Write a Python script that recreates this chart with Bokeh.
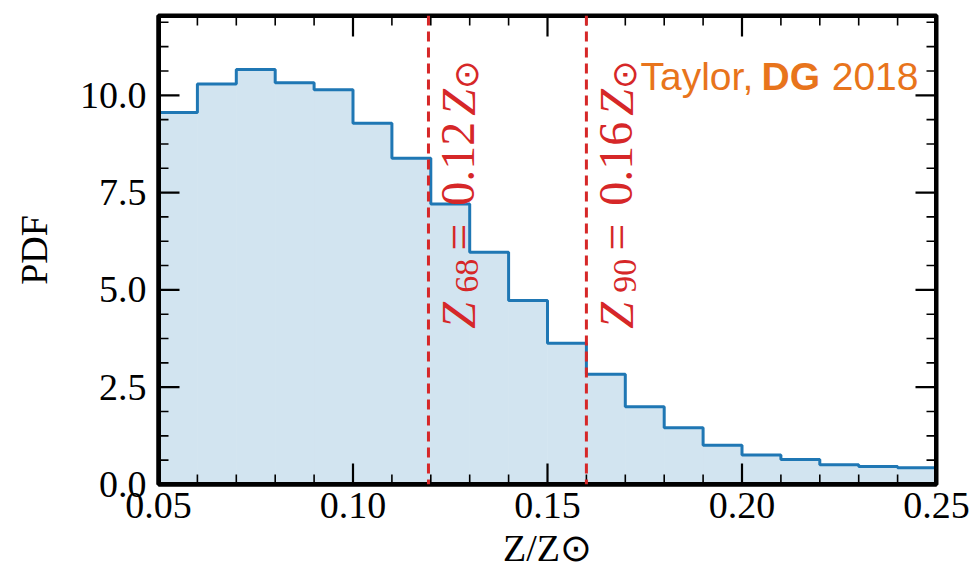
from bokeh.plotting import figure
from bokeh.models import (Span, Label, FixedTicker, PrintfTickFormatter, Range1d,
                          BoxAnnotation)
from bokeh.embed import file_html
from bokeh.resources import INLINE

# ---- data ----
bin_edges = [0.05, 0.06, 0.07, 0.08, 0.09, 0.10, 0.11, 0.12, 0.13, 0.14, 0.15,
             0.16, 0.17, 0.18, 0.19, 0.20, 0.21, 0.22, 0.23, 0.24, 0.25]
pdf_values = [9.56, 10.29, 10.66, 10.32, 10.14, 9.28, 8.38, 7.21, 5.97, 4.73,
              3.63, 2.83, 2.00, 1.46, 1.01, 0.76, 0.64, 0.51, 0.46, 0.43]
z68 = 0.1194
z90 = 0.1600
x_major = [0.05, 0.10, 0.15, 0.20, 0.25]
x_minor = [0.06, 0.07, 0.08, 0.09, 0.11, 0.12, 0.13, 0.14, 0.16, 0.17, 0.18, 0.19,
           0.21, 0.22, 0.23, 0.24]
y_major = [0.0, 2.5, 5.0, 7.5, 10.0]
y_minor = [0.625, 1.25, 1.875, 3.125, 3.75, 4.375, 5.625, 6.25, 6.875, 8.125, 8.75,
           9.375, 10.625, 11.25, 11.875]
x_lo, x_hi = 0.05, 0.25
y_lo, y_hi = 0.0, 12.05

BLUE = "#1f77b4"
RED = "#d62728"
ORANGE = "#e8741c"
INK = "#000000"
SERIF = "Liberation Serif"

W, H = 977, 581
BL, BR, BT, BB = 158, 41, 15, 97
FRAME_W, FRAME_H = W - BL - BR, H - BT - BB
px_x = (x_hi - x_lo) / FRAME_W
px_y = (y_hi - y_lo) / FRAME_H

p = figure(width=W, height=H, output_backend="svg", toolbar_location=None,
           x_range=Range1d(x_lo, x_hi), y_range=Range1d(y_lo, y_hi),
           min_border_left=BL, min_border_right=BR, min_border_top=BT,
           min_border_bottom=BB, x_axis_label="Z/Z⊙", y_axis_label="PDF")
p.grid.grid_line_color = None
p.outline_line_color = INK
p.outline_line_width = 4
p.background_fill_color = "white"
p.border_fill_color = "white"

p.xaxis.ticker = FixedTicker(ticks=x_major, minor_ticks=x_minor)
p.yaxis.ticker = FixedTicker(ticks=y_major, minor_ticks=y_minor)
p.xaxis.formatter = PrintfTickFormatter(format="%.2f")
p.yaxis.formatter = PrintfTickFormatter(format="%.1f")
for ax in (p.xaxis[0], p.yaxis[0]):
    ax.axis_line_width = 4
    ax.axis_line_color = INK
    ax.major_tick_in = 0
    ax.major_tick_out = 0
    ax.minor_tick_in = 0
    ax.minor_tick_out = 0
    ax.major_tick_line_color = None
    ax.minor_tick_line_color = None
    ax.major_label_text_font = SERIF
    ax.major_label_text_font_size = "38px"
    ax.major_label_text_color = INK
    ax.axis_label_text_font = SERIF
    ax.axis_label_text_font_size = "38px"
    ax.axis_label_text_font_style = "normal"
    ax.axis_label_text_color = INK
p.xaxis.major_label_standoff = 8
p.yaxis.major_label_standoff = 12
p.xaxis.axis_label_standoff = 6
p.yaxis.axis_label_standoff = 22

# histogram fill
p.quad(left=bin_edges[:-1], right=bin_edges[1:], bottom=0, top=pdf_values,
       fill_color=BLUE, fill_alpha=0.2, line_color=None)

# histogram outline as a staircase line built from the bins
sx, sy = [], []
for i, v in enumerate(pdf_values):
    sx += [bin_edges[i], bin_edges[i + 1]]
    sy += [v, v]
p.line(x=sx, y=sy, line_color=BLUE, line_width=3)


def box(left, right, bottom, top):
    p.add_layout(BoxAnnotation(left=left, right=right, bottom=bottom, top=top,
                               fill_color=INK, fill_alpha=1.0, line_color=None,
                               line_alpha=0.0))


# inward ticks on all four sides, from the tick lists
for ticks, ln, lw in ((x_major, 21, 2.2), (x_minor, 10, 1.6)):
    for t in ticks:
        hw = lw / 2 * px_x
        box(t - hw, t + hw, y_lo, y_lo + ln * px_y)
        box(t - hw, t + hw, y_hi - ln * px_y, y_hi)
for ticks, ln, lw in ((y_major, 21, 2.2), (y_minor, 10, 1.6)):
    for t in ticks:
        hh = lw / 2 * px_y
        box(x_lo, x_lo + ln * px_x, t - hh, t + hh)
        box(x_hi - ln * px_x, x_hi, t - hh, t + hh)

# thick frame border (inner part)
fw = 2.5
box(x_lo, x_lo + fw * px_x, y_lo, y_hi)
box(x_hi - fw * px_x, x_hi, y_lo, y_hi)
box(x_lo, x_hi, y_lo, y_lo + fw * px_y)
box(x_lo, x_hi, y_hi - fw * px_y, y_hi)

# vertical dashed lines
for loc in (z68, z90):
    p.add_layout(Span(location=loc, dimension="height", line_color=RED,
                      line_dash="10 6", line_width=3))


def rot_label(xloc, label_num, value_txt):
    base = dict(x=xloc, y=4.0, angle=90, angle_units="deg", text_color=RED,
                text_font=SERIF, text_align="left", text_baseline="alphabetic")
    pieces = [
        ("Z", "italic", "48px", 0, 30),
        (label_num, "normal", "34px", 36, 39),
        ("=", "normal", "48px", 78, 30),
        (value_txt, "normal", "48px", 123, 30),
        ("Z", "italic", "48px", 213, 30),
        ("⊙", "normal", "34px", 240, 38),
    ]
    for txt, style, size, yoff, xoff in pieces:
        p.add_layout(Label(text=txt, text_font_style=style, text_font_size=size,
                           y_offset=yoff, x_offset=xoff, **base))


rot_label(z68, "68", "0.12")
rot_label(z90, "90", "0.16")

# credit text
cred = dict(x=x_hi, y=y_hi, y_offset=-61, text_color=ORANGE,
            text_font="Liberation Sans", text_font_size="39px",
            text_baseline="alphabetic")
p.add_layout(Label(text="Taylor,", x_offset=-296, text_align="left", **cred))
p.add_layout(Label(text="DG", x_offset=-175, text_align="left",
                   text_font_style="bold", **cred))
p.add_layout(Label(text="2018", x_offset=-18, text_align="right", **cred))

open("out.html", "w").write(file_html(p, INLINE))
